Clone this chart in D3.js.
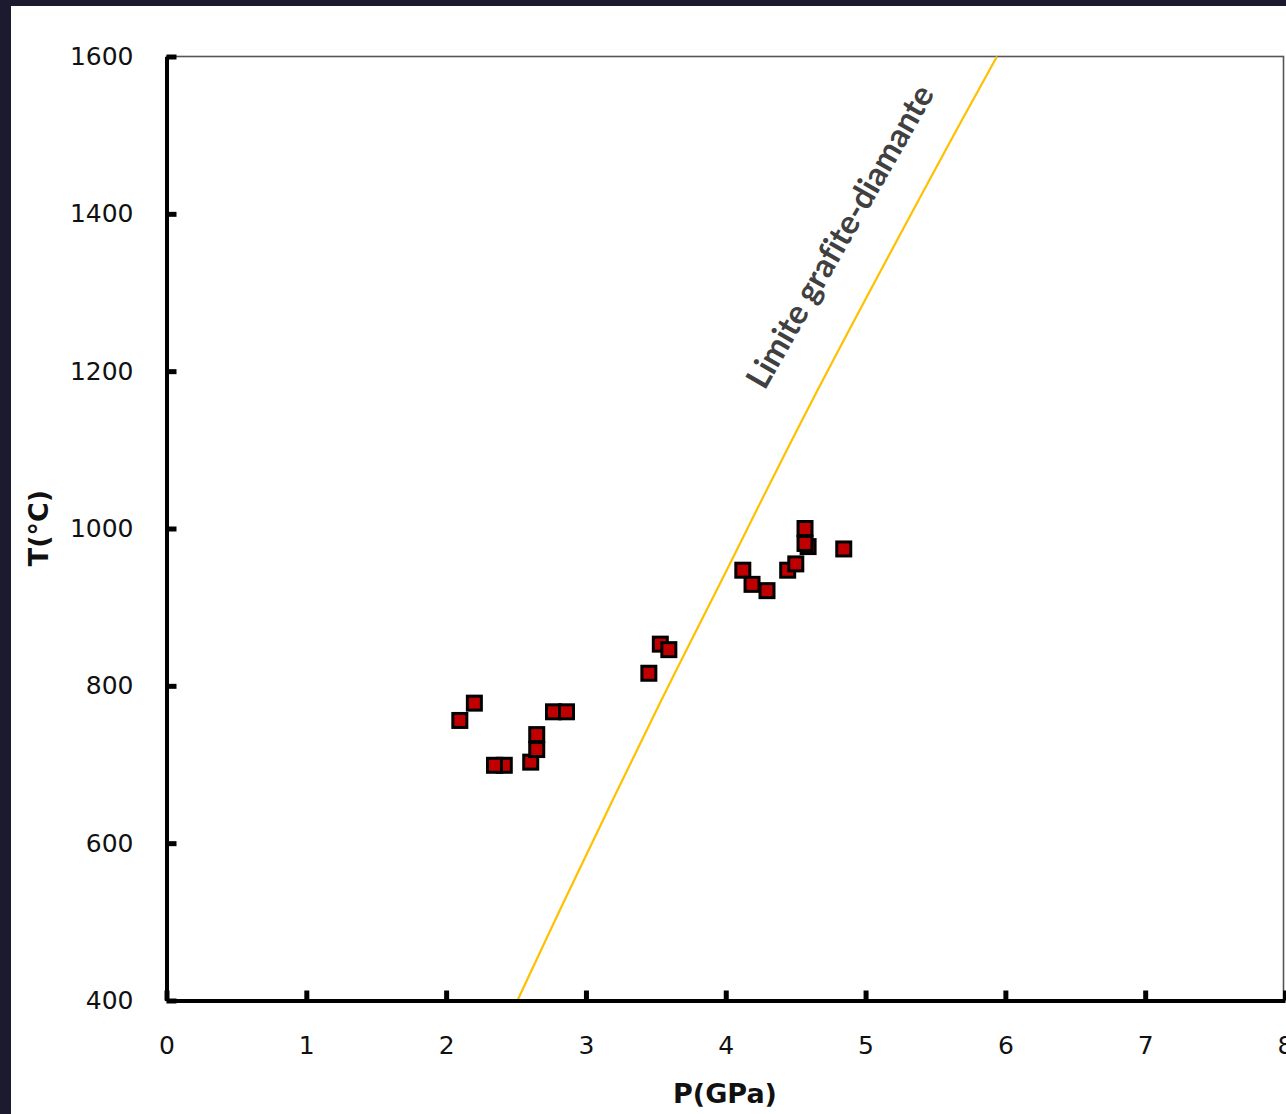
<!DOCTYPE html>
<html>
<head>
<meta charset="utf-8">
<script src="https://cdn.jsdelivr.net/npm/d3@7"></script>
<style>
  html, body { margin: 0; padding: 0; background: #1c1a2f; }
  svg { display: block; }
</style>
</head>
<body>
<div id="chart"></div>
<script>
// sample points, P in GPa and T in °C
var pValues = [2.202, 2.098, 2.416, 2.346, 2.605, 2.648, 2.648, 2.768, 2.861,
               3.450, 3.532, 3.593,
               4.122, 4.188, 4.295, 4.443, 4.501, 4.589, 4.567, 4.567, 4.844];
var tValues = [778, 756, 699, 699, 703, 719, 738, 767, 767,
               816, 853, 846,
               947, 929, 921, 947, 955, 977, 981, 1000, 974];

// graphite-diamond boundary
var limitP = [2.51, 2.83, 3.54, 3.97, 4.59, 5.60, 5.94];
var limitT = [400, 521, 782, 934, 1153, 1490, 1600];

var xTicks = [0, 1, 2, 3, 4, 5, 6, 7, 8];
var yTicks = [400, 600, 800, 1000, 1200, 1400, 1600];

var W = 1286, H = 1114;

var svg = d3.select("#chart").append("svg")
  .attr("width", W)
  .attr("height", H);

// white page inside the dark frame
svg.append("rect")
  .attr("x", 11).attr("y", 6)
  .attr("width", W - 11).attr("height", H - 6)
  .attr("fill", "#fff");

var x = d3.scaleLinear().domain([0, 8]).range([166.5, 1285]);
var y = d3.scaleLinear().domain([400, 1600]).range([1000.5, 56.5]);

// thin frame for top and right
svg.append("rect")
  .attr("x", x(0)).attr("y", y(1600))
  .attr("width", x(8) - x(0) - 1.5)
  .attr("height", y(400) - y(1600))
  .attr("fill", "none")
  .attr("stroke", "#555")
  .attr("stroke-width", 1.6);

// the boundary line
svg.append("path")
  .datum(d3.range(limitP.length))
  .attr("fill", "none")
  .attr("stroke", "#ffc000")
  .attr("stroke-width", 2.2)
  .attr("d", d3.line()
    .curve(d3.curveCatmullRom)
    .x(function(i) { return x(limitP[i]); })
    .y(function(i) { return y(limitT[i]); }));

// axes
var xAxis = svg.append("g")
  .attr("transform", "translate(0," + y(400) + ")")
  .call(d3.axisBottom(x).tickValues(xTicks).tickFormat(d3.format("d"))
    .tickSizeInner(-10).tickSizeOuter(0).tickPadding(36));

var yAxis = svg.append("g")
  .attr("transform", "translate(" + x(0) + ",0)")
  .call(d3.axisLeft(y).tickValues(yTicks).tickFormat(d3.format("d"))
    .tickSizeInner(-10).tickSizeOuter(0).tickPadding(33));

[xAxis, yAxis].forEach(function(g) {
  g.select(".domain").attr("stroke", "#000").attr("stroke-width", 4);
  g.selectAll(".tick line").attr("stroke", "#000").attr("stroke-width", 5);
  g.selectAll(".tick text")
    .attr("fill", "#111")
    .style("font-family", "DejaVu Sans")
    .style("font-size", "25px");
});

// markers
svg.append("g")
  .selectAll("rect")
  .data(d3.range(pValues.length))
  .join("rect")
    .attr("x", function(i) { return x(pValues[i]) - 7; })
    .attr("y", function(i) { return y(tValues[i]) - 7; })
    .attr("width", 14)
    .attr("height", 14)
    .attr("fill", "#c00000")
    .attr("stroke", "#000")
    .attr("stroke-width", 3);

// axis titles
svg.append("text")
  .attr("x", 725).attr("y", 1103)
  .attr("text-anchor", "middle")
  .attr("fill", "#111")
  .style("font-family", "DejaVu Sans")
  .style("font-weight", "bold")
  .style("font-size", "27px")
  .text("P(GPa)");

svg.append("text")
  .attr("transform", "translate(48,528) rotate(-90)")
  .attr("text-anchor", "middle")
  .attr("fill", "#111")
  .style("font-family", "DejaVu Sans")
  .style("font-weight", "bold")
  .style("font-size", "27px")
  .text("T(°C)");

// label along the line
var lbl = svg.append("text")
  .attr("transform", "translate(839,236) rotate(-60.2)")
  .attr("text-anchor", "middle")
  .attr("dominant-baseline", "central")
  .attr("fill", "#404040")
  .style("font-family", "Lato")
  .style("font-weight", "bold")
  .style("font-variant-ligatures", "none")
  .style("font-size", "30px")
  .text("Limite grafite-diamante");

var len = lbl.node().getComputedTextLength();
lbl.style("font-size", (30 * 343 / len) + "px");
</script>
</body>
</html>
